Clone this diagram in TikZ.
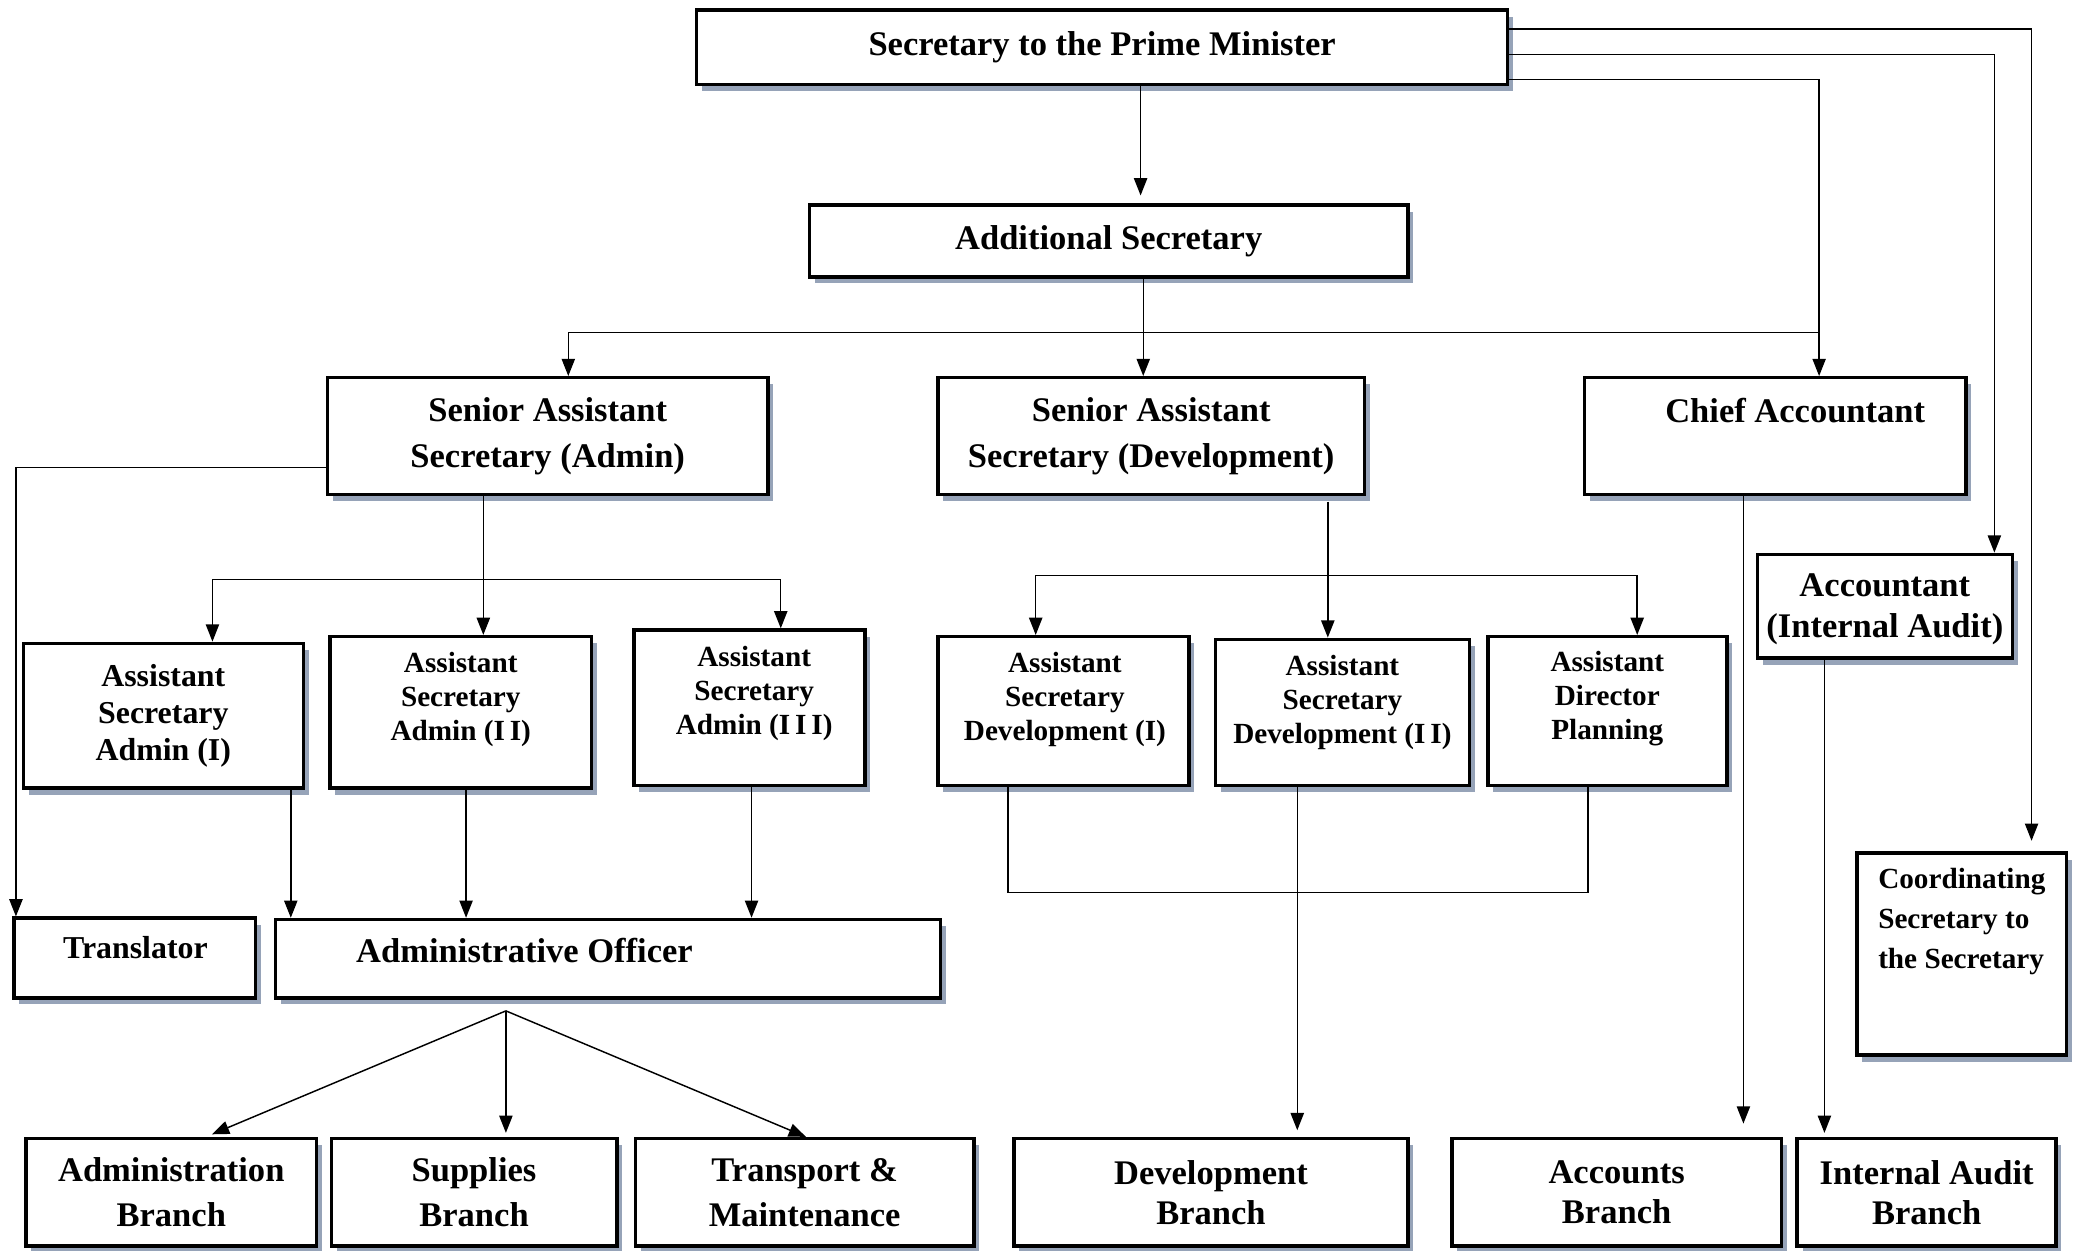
\documentclass[tikz,border=0pt]{standalone}
\usepackage{fontspec}
\setmainfont{Liberation Serif}
\usepackage{tikz}
\usetikzlibrary{arrows.meta,shadows}
\definecolor{shade}{RGB}{150,163,184}
\newcommand\fsz[2]{\bfseries\fontsize{#1}{#2}\selectfont}
\tikzstyle{unit}=[rectangle,draw=black,line width=2.6pt,fill=white,inner sep=0pt,align=center,font=\fsz{26}{34},general shadow={fill=shade,shadow xshift=4pt,shadow yshift=-5pt}]
\tikzstyle{caption}=[inner sep=0pt,align=center,font=\fsz{22}{25.5}]
\tikzstyle{link}=[line width=1.1pt]

\begin{document}
\begin{tikzpicture}[x=1pt,y=-1pt,>={Triangle[length=13pt,width=10pt]}]
        \useasboundingbox (0,0) rectangle (1568,942);
        % top levels
        \node at ( 830, 35.5) [unit,minimum width=611pt,minimum height=56pt] (spm) {Secretary to the Prime Minister};
        \node at ( 835,181.5) [unit,minimum width=451pt,minimum height=54pt] (adds) {Additional Secretary};
        \node at (412.5,328.5) [unit,minimum width=332pt,minimum height=88pt] (sasa) {Senior Assistant\\Secretary (Admin)};
        \node at ( 867,328.5) [unit,minimum width=321pt,minimum height=88pt] (sasd) {Senior Assistant\\Secretary (Development)};
        \node at (1337,328.5) [unit,minimum width=287pt,minimum height=88pt] (chief) {};
        \node at (1352, 309) [caption,font=\fsz{26}{34}] (chief-t) {Chief Accountant};
        \node at (1419.5,456.5) [unit,minimum width=192pt,minimum height=78pt] (acia) {};
        \node at (1419.5, 459) [caption,font=\fsz{26}{31}] (acia-t) {Accountant\\(Internal Audit)};
        \node at (1477.5,718.5) [unit,minimum width=158pt,minimum height=152pt] (coord) {};
        \node at (1477.5, 694) [caption,align=left,font=\fsz{22}{30}] (coord-t) {Coordinating\\Secretary to\\the Secretary};
        % assistants
        \node at ( 123, 539) [unit,minimum width=211pt,minimum height=109pt,font=\fsz{24}{28}] (asa1) {Assistant\\Secretary\\Admin (I)};
        \node at ( 347,536.5) [unit,minimum width=197pt,minimum height=114pt] (asa2) {};
        \node at ( 347, 527) [caption] (asa2-t) {Assistant\\Secretary\\Admin (I\,I)};
        \node at (564.5, 533) [unit,minimum width=174pt,minimum height=117pt] (asa3) {};
        \node at ( 568, 522) [caption] (asa3-t) {Assistant\\Secretary\\Admin (I\,I\,I)};
        \node at ( 801,535.5) [unit,minimum width=189pt,minimum height=112pt] (asd1) {};
        \node at ( 802, 527) [caption] (asd1-t) {Assistant\\Secretary\\Development (I)};
        \node at (1011,536.5) [unit,minimum width=191pt,minimum height=110pt] (asd2) {};
        \node at (1011, 529) [caption] (asd2-t) {Assistant\\Secretary\\Development (I\,I)};
        \node at (1210.5,535.5) [unit,minimum width=180pt,minimum height=112pt] (adp) {};
        \node at (1210.5, 526) [caption] (adp-t) {Assistant\\Director\\Planning};
        \node at (101.5,721.5) [unit,minimum width=182pt,minimum height=60pt] (trans) {};
        \node at ( 102, 714) [caption,font=\fsz{24}{28}] (trans-t) {Translator};
        \node at ( 458, 722) [unit,minimum width=501pt,minimum height=59pt] (ao) {};
        \node at ( 395, 716) [caption,font=\fsz{26}{34}] (ao-t) {Administrative Officer};
        % branches
        \node at ( 129, 898) [unit,minimum width=219pt,minimum height=81pt] (adb) {Administration\\Branch};
        \node at ( 357, 898) [unit,minimum width=215pt,minimum height=81pt] (supb) {Supplies\\Branch};
        \node at ( 606, 898) [unit,minimum width=255pt,minimum height=81pt] (tmb) {Transport \&\\Maintenance};
        \node at ( 912, 898) [unit,minimum width=297pt,minimum height=81pt,font=\fsz{26}{30}] (devb) {Development\\Branch};
        \node at (1217.5,898) [unit,minimum width=248pt,minimum height=81pt,font=\fsz{26}{30}] (accb) {Accounts\\Branch};
        \node at (1451, 898) [unit,minimum width=195pt,minimum height=81pt,font=\fsz{26}{30}] (iab) {Internal Audit\\Branch};
        % junctions
        \coordinate (bus1) at ([xshift=26pt,yshift=-40.5pt]adds.south);
        \coordinate (bus2) at ([xshift=-48.5pt,yshift=-62.5pt]sasa.south);
        \coordinate (bus3) at ([xshift=133pt,yshift=-59.5pt]sasd.south);
        \coordinate (hub) at ([xshift=-77pt,yshift=-8.5pt]ao.south);
        % from the secretary
        \draw [link,->,shorten >=6pt] ([xshift=29pt]spm.south) -- ([xshift=24pt]adds.north);
        \draw [link,->,shorten >=8pt] ([yshift=13.5pt]spm.east) -| ([xshift=52.5pt]coord.north);
        \draw [link,->] ([yshift=-5.5pt]spm.east) -| ([xshift=82.5pt]acia.north);
        \draw [link,->] ([yshift=-24.5pt]spm.east) -| ([xshift=33pt]chief.north);
        \draw [link,->] ([xshift=26pt]adds.south) -- ([xshift=-6pt]sasd.north);
        \draw [link,->] (bus1) -| ([xshift=15.5pt]sasa.north);
        \draw [link] (bus1) -- ++(509,0);
        % admin side
        \draw [link,->] ([yshift=-23.5pt]sasa.west) -| ([xshift=-89.5pt]trans.north);
        \draw [link,->] ([xshift=-48.5pt]sasa.south) -- ([xshift=17pt]asa2.north);
        \draw [link,->] (bus2) -| ([xshift=37pt]asa1.north);
        \draw [link,->] (bus2) -| ([xshift=23.5pt]asa3.north);
        \draw [link,->] ([xshift=96pt]asa1.south) -- ([xshift=-239pt]ao.north);
        \draw [link,->] ([xshift=4pt]asa2.south) -- ([xshift=-107pt]ao.north);
        \draw [link,->] ([xshift=1.5pt]asa3.south) -- ([xshift=108pt]ao.north);
        \draw [link,->,shorten >=5pt] (hub) -- ([xshift=26pt]adb.north);
        \draw [link,->,shorten >=3pt] (hub) -- ([xshift=24pt]supb.north);
        \draw [link,->] (hub) -- ([xshift=1pt]tmb.north);
        % development side
        \draw [link] ([xshift=133pt,yshift=-4pt]sasd.south) -- (bus3);
        \draw [link,->] (bus3) -- ([xshift=-11pt]asd2.north);
        \draw [link,->] (bus3) -| ([xshift=-21pt]asd1.north);
        \draw [link,->] (bus3) -| ([xshift=22.5pt]adp.north);
        \draw [link] ([xshift=-42pt]asd1.south) -- ++(0,79.5) -| ([xshift=-14.5pt]adp.south);
        \draw [link,->,shorten >=5pt] ([xshift=-34pt]asd2.south) -- ([xshift=65pt]devb.north);
        % accounts
        \draw [link,->,shorten >=10pt] ([xshift=-24pt]chief.south) -- ([xshift=95.5pt]accb.north);
        \draw [link,->,shorten >=3pt] ([xshift=-45.5pt]acia.south) -- ([xshift=-77pt]iab.north);
      \end{tikzpicture}
\end{document}
